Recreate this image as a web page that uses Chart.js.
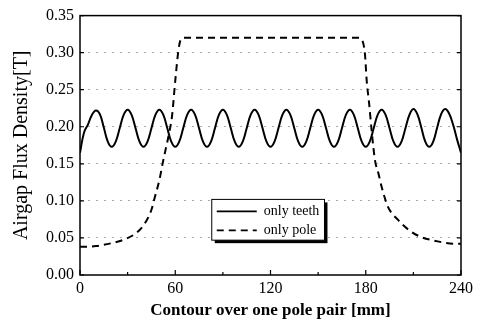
<!DOCTYPE html>
<html>
<head>
<meta charset="utf-8">
<script src="https://cdn.jsdelivr.net/npm/chart.js@4.4.0/dist/chart.umd.min.js"></script>
<style>
  html, body { margin: 0; padding: 0; background: #fff; }
  #wrap { width: 485px; height: 321px; }
</style>
</head>
<body>
<div id="wrap"><canvas id="chart" width="485" height="321"></canvas></div>
<script>
// x positions (mm) for the teeth curve, every 2.5 mm
var teethX = [];
for (var i = 0; i <= 96; i++) teethX.push(i * 2.5);

// flux density [T]
var teethY = [
  0.165, 0.192, 0.203, 0.216, 0.222, 0.217, 0.199, 0.180,
  0.173, 0.180, 0.198, 0.216, 0.223, 0.216, 0.198, 0.180,
  0.173, 0.180, 0.198, 0.216, 0.223, 0.216, 0.198, 0.180,
  0.173, 0.180, 0.198, 0.216, 0.223, 0.216, 0.198, 0.180,
  0.173, 0.180, 0.198, 0.216, 0.223, 0.216, 0.198, 0.180,
  0.173, 0.180, 0.198, 0.216, 0.223, 0.216, 0.198, 0.180,
  0.173, 0.180, 0.198, 0.216, 0.223, 0.216, 0.198, 0.180,
  0.173, 0.180, 0.198, 0.216, 0.223, 0.216, 0.198, 0.180,
  0.173, 0.180, 0.198, 0.216, 0.223, 0.216, 0.198, 0.180,
  0.173, 0.180, 0.198, 0.216, 0.223, 0.216, 0.198, 0.180,
  0.173, 0.180, 0.198, 0.216, 0.224, 0.217, 0.199, 0.180,
  0.173, 0.180, 0.199, 0.217, 0.224, 0.218, 0.203, 0.183,
  0.165
];

var poleX = [0, 10, 20, 28, 35, 40, 45, 47, 50, 52, 54, 56, 58, 60, 62, 63.5, 65,
             176, 177.5, 179.5, 180.6, 182.2, 183.7, 185.8, 188, 190, 194, 200.5, 207, 214, 224, 236, 240];
var poleY = [0.038, 0.039, 0.043, 0.048, 0.056, 0.067, 0.088, 0.104, 0.128, 0.150, 0.170, 0.190, 0.215, 0.262, 0.303, 0.318, 0.320,
             0.320, 0.318, 0.298, 0.262, 0.230, 0.195, 0.155, 0.137, 0.119, 0.092, 0.074, 0.061, 0.052, 0.046, 0.042, 0.042];

var seriesNames = ["only teeth", "only pole"];

function toPoints(xs, ys) {
  return xs.map(function (x, k) { return { x: x, y: ys[k] }; });
}

var serif = "'Liberation Serif', 'DejaVu Serif', serif";

// box, inward ticks and the boxed legend
var decor = {
  id: 'decor',
  afterDatasetsDraw: function (chart) {
    var ctx = chart.ctx, a = chart.chartArea;
    var xs = chart.scales.x, ys = chart.scales.y;
    ctx.save();
    ctx.strokeStyle = '#000';
    ctx.lineWidth = 1.5;
    ctx.strokeRect(a.left, a.top, a.right - a.left, a.bottom - a.top);

    ctx.lineWidth = 1.2;
    for (var v = 0; v <= 240; v += 30) {
      var px = xs.getPixelForValue(v);
      var len = (v % 60 === 0) ? 5 : 3;
      ctx.beginPath();
      ctx.moveTo(px, a.bottom); ctx.lineTo(px, a.bottom - len);
      ctx.stroke();
    }
    for (var t = 0; t <= 7; t++) {
      var py = ys.getPixelForValue(t * 0.05);
      ctx.beginPath();
      ctx.moveTo(a.left, py); ctx.lineTo(a.left + 4, py);
      ctx.moveTo(a.right, py); ctx.lineTo(a.right - 4, py);
      ctx.stroke();
    }

    // legend box
    var lx = xs.getPixelForValue(83), rx = xs.getPixelForValue(154);
    var ty = ys.getPixelForValue(0.102), by = ys.getPixelForValue(0.047);
    ctx.fillStyle = '#000';
    ctx.fillRect(lx + 3, ty + 3, rx - lx, by - ty);
    ctx.fillStyle = '#fff';
    ctx.fillRect(lx, ty, rx - lx, by - ty);
    ctx.lineWidth = 1;
    ctx.strokeRect(lx, ty, rx - lx, by - ty);

    var rows = [ty + 12, ty + 31];
    chart.data.datasets.forEach(function (ds, k) {
      ctx.beginPath();
      ctx.lineWidth = 1.6;
      ctx.setLineDash(ds.borderDash || []);
      ctx.moveTo(lx + 5, rows[k]); ctx.lineTo(lx + 45, rows[k]);
      ctx.stroke();
      ctx.setLineDash([]);
      ctx.fillStyle = '#000';
      ctx.font = '14px ' + serif;
      ctx.textBaseline = 'middle';
      ctx.fillText(ds.label, lx + 52, rows[k]);
    });
    ctx.restore();
  }
};

new Chart(document.getElementById('chart'), {
  type: 'line',
  data: {
    datasets: [
      {
        label: seriesNames[0],
        data: toPoints(teethX, teethY),
        borderColor: '#000',
        borderWidth: 2,
        pointRadius: 0,
        tension: 0.4,
        fill: false
      },
      {
        label: seriesNames[1],
        data: toPoints(poleX, poleY),
        borderColor: '#000',
        borderWidth: 2,
        borderDash: [7, 5],
        pointRadius: 0,
        cubicInterpolationMode: 'monotone',
        fill: false
      }
    ]
  },
  options: {
    responsive: false,
    animation: false,
    layout: { padding: { top: 15, right: 24, left: 0, bottom: 0 } },
    plugins: {
      legend: { display: false },
      tooltip: { enabled: false }
    },
    scales: {
      x: {
        type: 'linear',
        min: 0,
        max: 240,
        afterFit: function (s) { s.height = 46; },
        ticks: {
          stepSize: 60,
          color: '#000',
          padding: 4,
          maxRotation: 0,
          font: { family: serif, size: 16 }
        },
        grid: { display: false, drawTicks: false },
        border: { display: false },
        title: {
          display: true,
          text: 'Contour over one pole pair [mm]',
          color: '#000',
          padding: { top: 2, bottom: 0 },
          font: { family: serif, size: 17, weight: 'bold' }
        }
      },
      y: {
        min: 0,
        max: 0.35,
        afterFit: function (s) { s.width = 80; },
        ticks: {
          stepSize: 0.05,
          color: '#000',
          padding: 6,
          font: { family: serif, size: 16 },
          callback: function (v) { return v.toFixed(2); }
        },
        grid: {
          color: function (c) {
            return (c.tick.value > 0.001 && c.tick.value < 0.349) ? '#aaa' : 'rgba(0,0,0,0)';
          },
          lineWidth: 1,
          drawTicks: false
        },
        border: { display: false, dash: [2, 6] },
        title: {
          display: true,
          text: 'Airgap Flux Density[T]',
          color: '#000',
          padding: { top: 10, bottom: 0 },
          font: { family: serif, size: 20 }
        }
      }
    }
  },
  plugins: [decor]
});
</script>
</body>
</html>
